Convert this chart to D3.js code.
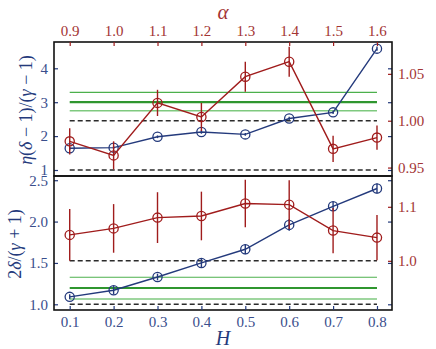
<!DOCTYPE html>
<html>
<head>
<meta charset="utf-8">
<script src="https://cdn.jsdelivr.net/npm/d3@7"></script>
<style>
body { margin: 0; background: #fff; }
svg { display: block; }
svg text { font-family: "Liberation Serif", "DejaVu Serif", serif; }
</style>
</head>
<body>
<svg id="chart" width="436" height="349"></svg>
<script>
// data
const hValues = [0.1, 0.2, 0.3, 0.4, 0.5, 0.6, 0.7, 0.8];
const alphaValues = [0.9, 1.0, 1.1, 1.2, 1.3, 1.4, 1.5, 1.6];

const topBlue = [1.64, 1.66, 1.98, 2.12, 2.05, 2.52, 2.70, 4.58];
const topBlueErr = [0.04, 0.04, 0.04, 0.05, 0.04, 0.05, 0.05, 0.06];
const topRed = [0.978, 0.963, 1.019, 1.004, 1.047, 1.063, 0.970, 0.982];
const topRedErr = [0.014, 0.015, 0.014, 0.015, 0.016, 0.016, 0.014, 0.013];

const lowBlue = [1.09, 1.17, 1.33, 1.50, 1.665, 1.96, 2.185, 2.40];
const lowBlueErr = [0.03, 0.05, 0.04, 0.06, 0.06, 0.07, 0.055, 0.06];
const lowRed = [1.048, 1.060, 1.080, 1.083, 1.106, 1.104, 1.056, 1.043];
const lowRedErr = [0.048, 0.045, 0.047, 0.045, 0.044, 0.045, 0.042, 0.042];

const topGreen = [3.29, 3.0, 2.75];
const lowGreen = [1.327, 1.197, 1.064];

const topLeftTicks = [1, 2, 3, 4];
const topRightTicks = [0.95, 1.00, 1.05];
const lowLeftTicks = [1.0, 1.5, 2.0, 2.5];
const lowRightTicks = [1.0, 1.1];

const blue = "#243a7c";
const red = "#a01c1c";
const blueText = "#3a4e8c";
const redText = "#a33434";

let svg = d3.select("#chart");

let left = 54, right = 392;
let x = d3.scaleLinear().domain([0.0642, 0.8342]).range([left, right]);
let xa = d3.scaleLinear().domain([0.8642, 1.6342]).range([left, right]);

let panels = [
    {
        top: 42, bottom: 176,
        yl: d3.scaleLinear().domain([0.823, 4.776]).range([176, 42]),
        yr: d3.scaleLinear().domain([0.941, 1.084]).range([176, 42]),
        blue: topBlue, blueErr: topBlueErr, red: topRed, redErr: topRedErr,
        green: topGreen, lt: topLeftTicks, rt: topRightTicks,
        lf: d3.format("d"), rf: d3.format(".2f")
    },
    {
        top: 176, bottom: 310,
        yl: d3.scaleLinear().domain([0.931, 2.551]).range([310, 176]),
        yr: d3.scaleLinear().domain([0.909, 1.157]).range([310, 176]),
        blue: lowBlue, blueErr: lowBlueErr, red: lowRed, redErr: lowRedErr,
        green: lowGreen, lt: lowLeftTicks, rt: lowRightTicks,
        lf: d3.format(".1f"), rf: d3.format(".1f")
    }
];

function styleAxis(g, color, textColor) {
    g.attr("font-family", null).attr("font-size", null);
    g.select(".domain").remove();
    g.selectAll(".tick line").attr("stroke", color).attr("stroke-width", 1.2);
    g.selectAll(".tick text")
        .attr("fill", textColor)
        .style("font-size", "15px")
        .style("font-family", "'Liberation Serif', 'DejaVu Serif', serif");
}

panels.forEach(p => {
    let g = svg.append("g");
    let x0 = x(hValues[0]), x1 = x(hValues[hValues.length - 1]);

    // green reference lines
    let gStyles = [
        { c: "#4cb04c", w: 1.2 },
        { c: "#2f962f", w: 2.2 },
        { c: "#7fc97f", w: 1.6 }
    ];
    p.green.forEach((v, i) => {
        g.append("line")
            .attr("x1", x0).attr("x2", x1)
            .attr("y1", p.yl(v)).attr("y2", p.yl(v))
            .attr("stroke", gStyles[i].c)
            .attr("stroke-width", gStyles[i].w);
    });

    // dashed lines at 1 on both axes
    [p.yl(1), p.yr(1)].forEach(yy => {
        g.append("line")
            .attr("x1", x0).attr("x2", x1)
            .attr("y1", yy).attr("y2", yy)
            .attr("stroke", "#2b2b2b")
            .attr("stroke-width", 1.5)
            .attr("stroke-dasharray", "5,3");
    });

    // blue series (H, left axis)
    let blueLine = d3.line().x((d, i) => x(hValues[i])).y(d => p.yl(d));
    g.append("path").datum(p.blue)
        .attr("d", blueLine)
        .attr("fill", "none").attr("stroke", blue).attr("stroke-width", 1.4);
    p.blue.forEach((v, i) => {
        g.append("line")
            .attr("x1", x(hValues[i])).attr("x2", x(hValues[i]))
            .attr("y1", p.yl(v - p.blueErr[i])).attr("y2", p.yl(v + p.blueErr[i]))
            .attr("stroke", blue).attr("stroke-width", 1.4);
        g.append("circle")
            .attr("cx", x(hValues[i])).attr("cy", p.yl(v)).attr("r", 4.6)
            .attr("fill", "none").attr("stroke", blue).attr("stroke-width", 1.3);
    });

    // red series (alpha, right axis)
    let redLine = d3.line().x((d, i) => xa(alphaValues[i])).y(d => p.yr(d));
    g.append("path").datum(p.red)
        .attr("d", redLine)
        .attr("fill", "none").attr("stroke", red).attr("stroke-width", 1.4);
    p.red.forEach((v, i) => {
        g.append("line")
            .attr("x1", xa(alphaValues[i])).attr("x2", xa(alphaValues[i]))
            .attr("y1", p.yr(v - p.redErr[i])).attr("y2", p.yr(v + p.redErr[i]))
            .attr("stroke", red).attr("stroke-width", 1.4);
        g.append("circle")
            .attr("cx", xa(alphaValues[i])).attr("cy", p.yr(v)).attr("r", 4.6)
            .attr("fill", "none").attr("stroke", red).attr("stroke-width", 1.3);
    });

    // left axis
    let la = svg.append("g").attr("transform", `translate(${left},0)`)
        .call(d3.axisLeft(p.yl).tickValues(p.lt).tickFormat(p.lf).tickSizeInner(-4).tickPadding(6));
    styleAxis(la, blue, blueText);

    // left ticks mirrored on the right spine
    let lr = svg.append("g").attr("transform", `translate(${right},0)`)
        .call(d3.axisRight(p.yl).tickValues(p.lt).tickSizeInner(-4).tickFormat(""));
    styleAxis(lr, blue, blueText);

    // right axis
    let ra = svg.append("g").attr("transform", `translate(${right},0)`)
        .call(d3.axisRight(p.yr).tickValues(p.rt).tickFormat(p.rf).tickSizeInner(-4).tickPadding(6));
    styleAxis(ra, red, redText);

    // frame
    svg.append("rect")
        .attr("x", left).attr("y", p.top)
        .attr("width", right - left).attr("height", p.bottom - p.top)
        .attr("fill", "none").attr("stroke", "#111").attr("stroke-width", 1.6);
});

// top alpha axis
let ta = svg.append("g").attr("transform", `translate(0,${panels[0].top})`)
    .call(d3.axisTop(xa).tickValues(alphaValues).tickFormat(d3.format(".1f")).tickSizeInner(-4).tickPadding(6));
styleAxis(ta, red, redText);

// bottom H axis
let ba = svg.append("g").attr("transform", `translate(0,${panels[1].bottom})`)
    .call(d3.axisBottom(x).tickValues(hValues).tickFormat(d3.format(".1f")).tickSizeInner(-4).tickPadding(6));
styleAxis(ba, blue, blueText);

// axis titles
svg.append("text")
    .attr("x", 223).attr("y", 19)
    .attr("text-anchor", "middle")
    .attr("font-size", "21px").attr("font-style", "italic")
    .attr("fill", redText)
    .text("α");

svg.append("text")
    .attr("x", 223).attr("y", 345)
    .attr("text-anchor", "middle")
    .attr("font-size", "20px").attr("font-style", "italic")
    .attr("fill", blue)
    .text("H");

function mathLabel(cx, cy, parts) {
    let t = svg.append("text")
        .attr("transform", `translate(${cx},${cy}) rotate(-90)`)
        .attr("text-anchor", "middle")
        .attr("font-size", "18px")
        .attr("fill", blue);
    parts.forEach(pt => {
        t.append("tspan").attr("font-style", pt[1] ? "italic" : "normal").text(pt[0]);
    });
}

mathLabel(32, 110, [["η", 1], ["(", 0], ["δ", 1], [" − 1)/(", 0], ["γ", 1], [" − 1)", 0]]);
mathLabel(21, 244, [["2", 0], ["δ", 1], ["/(", 0], ["γ", 1], [" + 1)", 0]]);
</script>
</body>
</html>
